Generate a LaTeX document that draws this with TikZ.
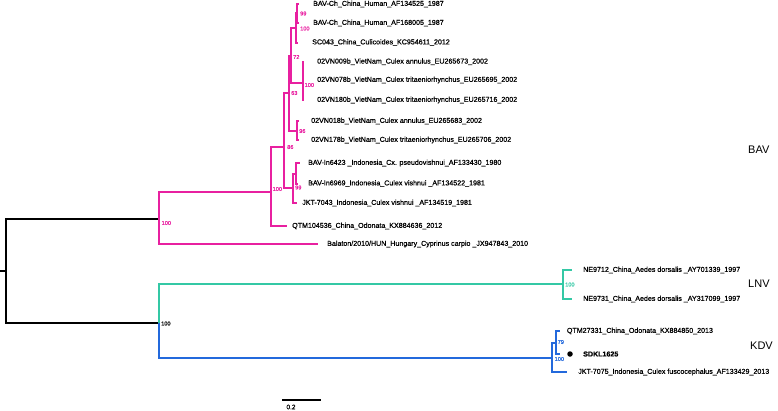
\documentclass[tikz,border=0pt]{standalone}
\usepackage{fontspec}
\setmainfont{Liberation Sans}
\newfontfamily\leaffont{Liberation Sans}[FakeBold=0.6]
\newfontfamily\boldleaffont{Liberation Sans Bold}[FakeBold=0.8]
\definecolor{bavc}{RGB}{232,32,160}
\definecolor{lnvc}{RGB}{52,200,165}
\definecolor{kdvc}{RGB}{35,105,220}
\tikzset{
  br/.style={line width=1.2pt},
  leaf/.style={anchor=west,inner sep=0pt,font=\leaffont\fontsize{7.1}{8}\selectfont},
  sup/.style={anchor=west,inner sep=0pt,font=\leaffont\fontsize{5.6}{6}\selectfont},
  clade/.style={anchor=west,inner sep=0pt,font=\fontsize{11}{12}\selectfont}
}
\begin{document}
\begin{tikzpicture}[x=1pt,y=-1pt]
\useasboundingbox (0,0) rectangle (778,410);
% tree coordinates
\coordinate (r0) at (0,271);
\coordinate (root) at (6,271);
\coordinate (bav) at (159,219);
\coordinate (lk) at (159,323);
\coordinate (n2) at (271,192);
\coordinate (n3) at (284,147);
\coordinate (n63) at (289,93);
\coordinate (n72) at (291,56);
\coordinate (n100a) at (296,28);
\coordinate (n99a) at (297,13);
\coordinate (t1) at (299,4);
\coordinate (t2) at (299,23);
\coordinate (t3) at (298,43);
\coordinate (n100b) at (303,83);
\coordinate (t4) at (304,62);
\coordinate (t5) at (304,80);
\coordinate (t6) at (304,100);
\coordinate (n96) at (297,131);
\coordinate (t7) at (299,121);
\coordinate (t8) at (299,140);
\coordinate (n99) at (293,188);
\coordinate (nB) at (296,174);
\coordinate (t9) at (300,163);
\coordinate (t10) at (298,184);
\coordinate (t11) at (297,203);
\coordinate (t12) at (287,226);
\coordinate (t13) at (318,244);
\coordinate (nl) at (563,284);
\coordinate (t14) at (572,270);
\coordinate (t15) at (572,299);
\coordinate (nk) at (552,358);
\coordinate (n79) at (556,343);
\coordinate (t16) at (560,331);
\coordinate (t17) at (560,354);
\coordinate (t18) at (567,372);
% black root
\draw[br] (r0) -- (root);
\draw[br] (root) |- (bav);
\draw[br] (root) |- (lk);
% BAV clade
\begin{scope}[bavc,br]
\draw (bav) |- (n2);
\draw (bav) |- (t13);
\draw (n2) |- (n3);
\draw (n2) |- (t12);
\draw (n3) |- (n63);
\draw (n3) |- (n99);
\draw (n63) |- (n72);
\draw (n63) |- (n96);
\draw (n72) |- (n100a);
\draw (n72) |- (n100b);
\draw (n100a) |- (n99a);
\draw (n100a) |- (t3);
\draw (n99a) |- (t1);
\draw (n99a) |- (t2);
\draw (n100b) |- (t4);
\draw (n100b) |- (t5);
\draw (n100b) |- (t6);
\draw (n96) |- (t7);
\draw (n96) |- (t8);
\draw (n99) |- (nB);
\draw (n99) |- (t11);
\draw (nB) |- (t9);
\draw (nB) |- (t10);
\end{scope}
% LNV
\begin{scope}[lnvc,br]
\draw (lk) |- (nl);
\draw (nl) |- (t14);
\draw (nl) |- (t15);
\end{scope}
% KDV
\begin{scope}[kdvc,br]
\draw (lk) |- (nk);
\draw (nk) |- (n79);
\draw (nk) |- (t18);
\draw (n79) |- (t16);
\draw (n79) |- (t17);
\end{scope}
% leaf labels
\node[leaf] (L1) at (313,4) {BAV-Ch\_China\_Human\_AF134525\_1987};
\node[leaf] (L2) at (313,23) {BAV-Ch\_China\_Human\_AF168005\_1987};
\node[leaf] (L3) at (312,42.5) {SC043\_China\_Culicoides\_KC954611\_2012};
\node[leaf] (L4) at (317,61.7) {02VN009b\_VietNam\_Culex annulus\_EU265673\_2002};
\node[leaf] (L5) at (317,80) {02VN078b\_VietNam\_Culex tritaeniorhynchus\_EU265695\_2002};
\node[leaf] (L6) at (317,100) {02VN180b\_VietNam\_Culex tritaeniorhynchus\_EU265716\_2002};
\node[leaf] (L7) at (311,121) {02VN018b\_VietNam\_Culex annulus\_EU265683\_2002};
\node[leaf] (L8) at (311,140) {02VN178b\_VietNam\_Culex tritaeniorhynchus\_EU265706\_2002};
\node[leaf] (L9) at (308,163) {BAV-In6423 \_Indonesia\_Cx. pseudovishnui\_AF133430\_1980};
\node[leaf] (L10) at (308,183.5) {BAV-In6969\_Indonesia\_Culex vishnui \_AF134522\_1981};
\node[leaf] (L11) at (302,203) {JKT-7043\_Indonesia\_Culex vishnui \_AF134519\_1981};
\node[leaf] (L12) at (292,226) {QTM104536\_China\_Odonata\_KX884636\_2012};
\node[leaf] (L13) at (327,244) {Balaton/2010/HUN\_Hungary\_Cyprinus carpio \_JX947843\_2010};
\node[leaf] (L14) at (583,270) {NE9712\_China\_Aedes dorsalis \_AY701339\_1997};
\node[leaf] (L15) at (583,299) {NE9731\_China\_Aedes dorsalis \_AY317099\_1997};
\node[leaf] (L16) at (566.7,331) {QTM27331\_China\_Odonata\_KX884850\_2013};
\node[circle,fill=black,inner sep=0pt,minimum size=5.5pt] (dot) at (570,354) {};
\node[leaf,font=\boldleaffont\fontsize{7.1}{8}\selectfont] (L17) at (583,354) {SDKL1625};
\node[leaf] (L18) at (578,372) {JKT-7075\_Indonesia\_Culex fuscocephalus\_AF133429\_2013};
% support values
\begin{scope}[bavc]
\node[sup] (s1) at (300,13.5) {99};
\node[sup] (s2) at (300,28.5) {100};
\node[sup] (s3) at (293,57) {72};
\node[sup] (s4) at (304.5,85) {100};
\node[sup] (s5) at (291,93) {63};
\node[sup] (s6) at (299,131) {96};
\node[sup] (s7) at (287,147) {86};
\node[sup] (s8) at (295,187.5) {99};
\node[sup] (s9) at (272.5,189) {100};
\node[sup] (s10) at (161.5,223) {100};
\end{scope}
\node[sup,lnvc] (s11) at (565,284.5) {100};
\node[sup] (s12) at (161,323.5) {100};
\node[sup,kdvc] (s13) at (557.5,342) {79};
\node[sup,kdvc] (s14) at (554.5,359) {100};
% clade labels
\node[clade] (cB) at (748,150) {BAV};
\node[clade] (cL) at (748,284) {LNV};
\node[clade] (cK) at (750,346) {KDV};
% scale bar
\coordinate (sb1) at (282,400);
\coordinate (sb2) at (321,400);
\draw[line width=1.2pt] (sb1) -- (sb2);
\node[sup,anchor=center,font=\leaffont\fontsize{6.5}{7}\selectfont] (sbl) at (291,407) {0.2};
\end{tikzpicture}
\end{document}
